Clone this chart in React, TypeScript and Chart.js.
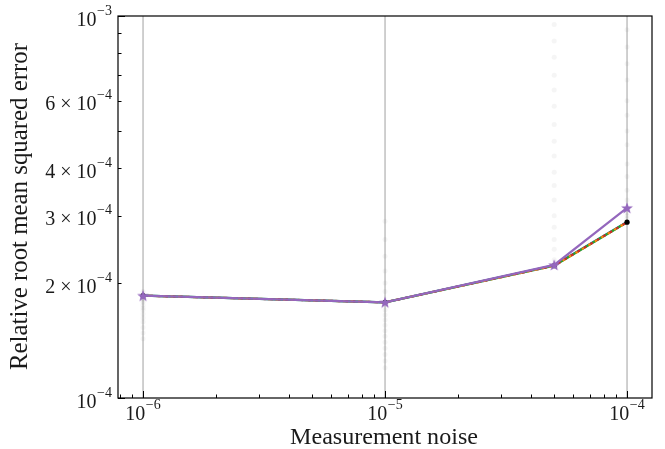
import React, { useEffect, useRef } from "react";
import { Chart, registerables } from "chart.js";

Chart.register(...registerables);

// ---- data ----
const noiseLevels = [1e-6, 1e-5, 5e-5, 1e-4];
const seriesPurple = [1.853e-4, 1.78e-4, 2.23e-4, 3.145e-4];
const seriesRed = [1.853e-4, 1.78e-4, 2.22e-4, 2.885e-4];
const seriesOrange = [1.853e-4, 1.78e-4, 2.22e-4, 2.885e-4];
const seriesGreen = [1.853e-4, 1.78e-4, 2.22e-4, 2.885e-4];
const seriesBlue = [1.853e-4, 1.78e-4, 2.225e-4, 2.89e-4];
const seriesBlack = [1.853e-4, 1.78e-4, 2.22e-4, 2.885e-4];

// faint individual samples
const samples1e6 = [1.9e-4, 1.84e-4, 1.82e-4, 1.8e-4, 1.78e-4, 1.75e-4, 1.72e-4, 1.7e-4, 1.66e-4, 1.62e-4, 1.58e-4, 1.53e-4, 1.48e-4, 1.43e-4];
const samples1e5 = [2.9e-4, 2.6e-4, 2.35e-4, 2.15e-4, 2.0e-4, 1.9e-4, 1.7e-4, 1.65e-4, 1.6e-4, 1.55e-4, 1.5e-4, 1.45e-4, 1.4e-4, 1.35e-4, 1.3e-4, 1.25e-4, 1.2e-4];
const samples5e5 = [2.3e-4, 2.45e-4, 2.6e-4, 2.8e-4, 3.0e-4, 3.3e-4, 3.6e-4, 3.9e-4, 4.3e-4, 4.7e-4, 5.2e-4, 5.8e-4, 6.4e-4, 7.0e-4, 7.8e-4, 8.6e-4, 9.5e-4];
const samples1e4 = [2.95e-4, 3.0e-4, 3.05e-4, 3.3e-4, 3.5e-4, 3.8e-4, 4.1e-4, 4.6e-4, 5.0e-4, 5.5e-4, 6.0e-4, 6.8e-4, 7.5e-4, 8.3e-4, 9.2e-4];
const verticalLineX = [1e-6, 1e-5, 1e-4];

// axes
const xMin = 7.88e-7;
const xMax = 1.268e-4;
const yMin = 1e-4;
const yMax = 1e-3;
const xMajorTicks = [1e-6, 1e-5, 1e-4];
const xMajorExp = ["−6", "−5", "−4"];
const xMinorTicks = [8e-7, 9e-7, 2e-6, 3e-6, 4e-6, 5e-6, 6e-6, 7e-6, 8e-6, 9e-6, 2e-5, 3e-5, 4e-5, 5e-5, 6e-5, 7e-5, 8e-5, 9e-5];
const yMajorTicks = [1e-4, 1e-3];
const yMajorExp = ["−4", "−3"];
const yMinorTicks = [2e-4, 3e-4, 4e-4, 5e-4, 6e-4, 7e-4, 8e-4, 9e-4];
const yLabeledMinor = [2e-4, 3e-4, 4e-4, 6e-4];
const yLabeledMant = ["2", "3", "4", "6"];
const xTitle = "Measurement noise";
const yTitle = "Relative root mean squared error";

const FONT = "'Liberation Serif', 'DejaVu Serif', serif";
const TEXT = "#1a1a1a";

function makeStar(color: string) {
  const c = document.createElement("canvas");
  c.width = 14;
  c.height = 14;
  const ctx = c.getContext("2d")!;
  ctx.fillStyle = color;
  ctx.beginPath();
  const cx = 7, cy = 7.5, ro = 6.2, ri = 2.6;
  for (let i = 0; i < 10; i++) {
    const r = i % 2 === 0 ? ro : ri;
    const a = -Math.PI / 2 + (i * Math.PI) / 5;
    const px = cx + r * Math.cos(a);
    const py = cy + r * Math.sin(a);
    if (i === 0) ctx.moveTo(px, py);
    else ctx.lineTo(px, py);
  }
  ctx.closePath();
  ctx.fill();
  return c;
}

function pts(ys: number[]) {
  return noiseLevels.map((x, i) => ({ x, y: ys[i] }));
}
function samplePts(x: number, ys: number[]) {
  return ys.map((y) => ({ x, y }));
}

function drawPow(
  ctx: CanvasRenderingContext2D,
  prefix: string,
  exp: string,
  x: number,
  baseline: number,
  align: "right" | "center",
  raise: number
) {
  const baseFont = `20px ${FONT}`;
  const supFont = `14px ${FONT}`;
  ctx.font = baseFont;
  const wPre = prefix ? ctx.measureText(prefix).width : 0;
  const wTen = ctx.measureText("10").width;
  ctx.font = supFont;
  const wExp = ctx.measureText(exp).width;
  const total = wPre + wTen + wExp + 0.5;
  const start = align === "right" ? x - total : x - total / 2;
  ctx.textAlign = "left";
  ctx.textBaseline = "alphabetic";
  ctx.font = baseFont;
  if (prefix) ctx.fillText(prefix, start, baseline);
  ctx.fillText("10", start + wPre, baseline);
  ctx.font = supFont;
  ctx.fillText(exp, start + wPre + wTen + 0.5, baseline - raise);
}

const axesPlugin = {
  id: "customAxes",
  afterDraw(chart: any) {
    const { ctx, chartArea } = chart;
    const xs = chart.scales.x;
    const ys = chart.scales.y;
    const { left, right, top, bottom } = chartArea;
    ctx.save();
    ctx.strokeStyle = "#000";
    ctx.fillStyle = TEXT;
    ctx.lineWidth = 1.2;
    ctx.strokeRect(left, top, right - left, bottom - top);

    ctx.lineWidth = 1;
    xMajorTicks.forEach((v) => {
      const px = Math.round(xs.getPixelForValue(v)) + 0.5;
      ctx.beginPath();
      ctx.moveTo(px, bottom);
      ctx.lineTo(px, bottom - 7);
      ctx.stroke();
    });
    xMinorTicks.forEach((v) => {
      const px = Math.round(xs.getPixelForValue(v)) + 0.5;
      ctx.beginPath();
      ctx.moveTo(px, bottom);
      ctx.lineTo(px, bottom - 3.5);
      ctx.stroke();
    });
    yMajorTicks.forEach((v) => {
      const py = Math.round(ys.getPixelForValue(v)) + 0.5;
      ctx.beginPath();
      ctx.moveTo(left, py);
      ctx.lineTo(left + 7, py);
      ctx.stroke();
    });
    yMinorTicks.forEach((v) => {
      const py = Math.round(ys.getPixelForValue(v)) + 0.5;
      ctx.beginPath();
      ctx.moveTo(left, py);
      ctx.lineTo(left + 3.5, py);
      ctx.stroke();
    });

    xMajorTicks.forEach((v, i) => {
      const px = xs.getPixelForValue(v);
      drawPow(ctx, "", xMajorExp[i], px, bottom + 22, "center", 11.5);
    });
    yMajorTicks.forEach((v, i) => {
      const py = ys.getPixelForValue(v);
      drawPow(ctx, "", yMajorExp[i], left - 6, py + 9.5, "right", 11);
    });
    yLabeledMinor.forEach((v, i) => {
      const py = ys.getPixelForValue(v);
      drawPow(ctx, yLabeledMant[i] + " × ", "−4", left - 6, py + 9.5, "right", 11);
    });

    ctx.fillStyle = TEXT;
    ctx.font = `20px ${FONT}`;
    const wx = ctx.measureText(xTitle).width;
    const fx = (20 * 188) / wx;
    ctx.font = `${fx.toFixed(2)}px ${FONT}`;
    ctx.textAlign = "center";
    ctx.textBaseline = "alphabetic";
    ctx.fillText(xTitle, 384, 444);

    ctx.font = `20px ${FONT}`;
    const wy = ctx.measureText(yTitle).width;
    const fy = (20 * 327) / wy;
    ctx.font = `${fy.toFixed(2)}px ${FONT}`;
    ctx.translate(27, 206.5);
    ctx.rotate(-Math.PI / 2);
    ctx.fillText(yTitle, 0, 0);
    ctx.restore();
  },
};

export default function App() {
  const ref = useRef<HTMLCanvasElement | null>(null);
  useEffect(() => {
    if (!ref.current) return;
    const star = makeStar("#9467bd");
    const grey = "rgba(120,120,120,0.07)";
    const chart = new Chart(ref.current, {
      type: "line",
      data: {
        datasets: [
          {
            label: "purple",
            data: pts(seriesPurple),
            borderColor: "#9467bd",
            backgroundColor: "#9467bd",
            borderWidth: 2.2,
            pointStyle: star as any,
            pointRadius: 6,
            order: 0,
          },
          {
            label: "black",
            data: pts(seriesBlack),
            borderColor: "#000",
            backgroundColor: "#000",
            showLine: false,
            pointRadius: 2.6,
            pointBorderWidth: 0,
            order: 1,
          },
          {
            label: "red",
            data: pts(seriesRed),
            borderColor: "#d62728",
            borderWidth: 2.2,
            borderDash: [2.5, 5],
            borderDashOffset: 0,
            pointRadius: 0,
            order: 2,
          },
          {
            label: "orange",
            data: pts(seriesOrange),
            borderColor: "#ff7f0e",
            borderWidth: 2.2,
            borderDash: [2.5, 5],
            borderDashOffset: 2.5,
            pointRadius: 0,
            order: 3,
          },
          {
            label: "green",
            data: pts(seriesGreen),
            borderColor: "#2ca02c",
            borderWidth: 2.2,
            pointRadius: 0,
            order: 4,
          },
          {
            label: "blue",
            data: pts(seriesBlue),
            borderColor: "#1f77b4",
            borderWidth: 2.2,
            pointRadius: 0,
            order: 5,
          },
          ...verticalLineX.map((x, i) => ({
            label: "v" + i,
            data: [
              { x, y: yMin },
              { x, y: yMax },
            ],
            borderColor: "rgba(0,0,0,0.25)",
            borderWidth: 1.5,
            pointRadius: 0,
            order: 10,
          })),
          ...[
            [1e-6, samples1e6],
            [1e-5, samples1e5],
            [5e-5, samples5e5],
            [1e-4, samples1e4],
          ].map(([x, ys], i) => ({
            label: "s" + i,
            data: samplePts(x as number, ys as number[]),
            showLine: false,
            backgroundColor: grey,
            borderColor: grey,
            pointRadius: 2.5,
            pointBorderWidth: 0,
            order: 11,
          })),
        ] as any,
      },
      options: {
        animation: false,
        responsive: false,
        devicePixelRatio: 1,
        layout: { padding: { left: 118, right: 13, top: 16, bottom: 51 } },
        plugins: {
          legend: { display: false },
          tooltip: { enabled: false },
        },
        scales: {
          x: { type: "logarithmic", min: xMin, max: xMax, display: false },
          y: { type: "logarithmic", min: yMin, max: yMax, display: false },
        },
      },
      plugins: [axesPlugin],
    });
    return () => chart.destroy();
  }, []);
  return (
    <div
      style={{
        position: "fixed",
        top: 0,
        left: 0,
        width: 665,
        height: 449,
        background: "#fff",
      }}
    >
      <canvas
        ref={ref}
        width={665}
        height={449}
        style={{ display: "block" }}
      />
    </div>
  );
}
